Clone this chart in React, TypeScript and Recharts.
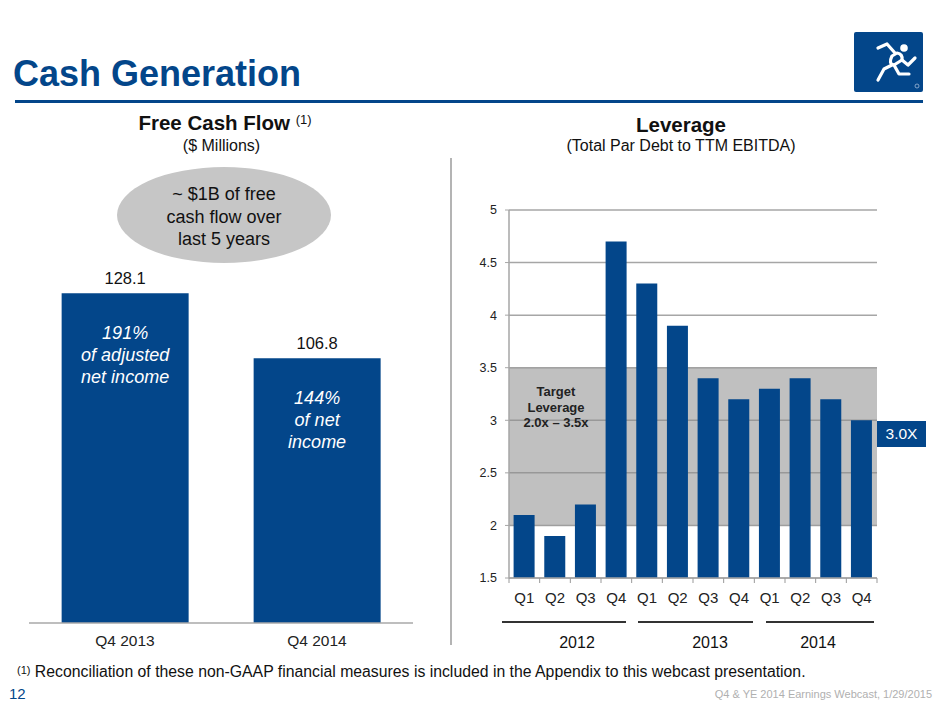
import React from 'react';
import {
  BarChart,
  Bar,
  XAxis,
  YAxis,
  CartesianGrid,
  ReferenceArea,
  LabelList,
} from 'recharts';

// ---------- data ----------
const fcfCategories = ['Q4 2013', 'Q4 2014'];
const fcfValues = [128.1, 106.8];
const fcfNotes = [
  ['191%', 'of adjusted', 'net income'],
  ['144%', 'of net', 'income'],
];

const levQuarters = ['Q1', 'Q2', 'Q3', 'Q4', 'Q1', 'Q2', 'Q3', 'Q4', 'Q1', 'Q2', 'Q3', 'Q4'];
const levValues = [2.1, 1.9, 2.2, 4.7, 4.3, 3.9, 3.4, 3.2, 3.3, 3.4, 3.2, 3.0];
const levYTicks = [1.5, 2, 2.5, 3, 3.5, 4, 4.5, 5];
const levYears = ['2012', '2013', '2014'];
const targetLow = 2.0;
const targetHigh = 3.5;
const currentLabel = '3.0X';

const fcfData = fcfCategories.map((c, i) => ({ name: c, value: fcfValues[i] }));
const levData = levQuarters.map((q, i) => ({ name: `${q}-${i}`, q, value: levValues[i] }));

// ---------- style ----------
const BLUE = '#03468a';
const FONT = '"Liberation Sans", Arial, Helvetica, sans-serif';

const X_AXIS_H = 30;
const LEV_W = 480;
const LEV_H = 545;
const LEV_MARGIN = { top: 50, right: 63, bottom: 127 - X_AXIS_H, left: 9 };
const LEV_YAXIS_W = 40;
const LEV_PLOT_W = LEV_W - LEV_MARGIN.left - LEV_MARGIN.right - LEV_YAXIS_W;

const QTick = (props: any) => {
  const { x, y, payload, index } = props;
  const band = LEV_PLOT_W / levQuarters.length;
  const axisY = y - 12;
  const label = levQuarters[index] ?? String(payload.value).split('-')[0];
  return (
    <g>
      <line x1={x - band / 2} x2={x - band / 2} y1={axisY} y2={axisY + 5} stroke="#999" strokeWidth={1} />
      {index === levQuarters.length - 1 && (
        <line x1={x + band / 2} x2={x + band / 2} y1={axisY} y2={axisY + 5} stroke="#999" strokeWidth={1} />
      )}
      <text x={x} y={y + 7} textAnchor="middle" dominantBaseline="central" fontSize={15} fill="#222" fontFamily={FONT}>
        {label}
      </text>
    </g>
  );
};

const NoteContent = (props: any) => {
  const { x, y, width, index } = props;
  const lines = fcfNotes[index] || [];
  return (
    <g>
      {lines.map((ln, i) => (
        <text
          key={i}
          x={x + width / 2}
          y={y + 40 + i * 22}
          textAnchor="middle"
          dominantBaseline="central"
          fontSize={18}
          fontStyle="italic"
          fill="#ffffff"
          fontFamily={FONT}
        >
          {ln}
        </text>
      ))}
    </g>
  );
};

const Logo = () => (
  <svg width={69} height={60} style={{ position: 'absolute', left: 854, top: 32 }}>
    <rect x={0} y={0} width={69} height={60} rx={2} fill={BLUE} />
    <g stroke="#fff" strokeWidth={3.2} strokeLinecap="round" strokeLinejoin="round" fill="none">
      <circle cx={50} cy={16} r={3.8} fill="#fff" stroke="none" />
      <path d="M41 21 L33 12 L24 16" />
      <path d="M43 21 Q49 22 48 28 L40 33 Q34 32 38 24 Z" />
      <path d="M48 28 L54 33 L61 26" />
      <path d="M38 33 L30 37 L24 48" />
      <path d="M40 33 L45 42 L55 42" />
    </g>
    <circle cx={63} cy={54} r={2} fill="none" stroke="#9fb8d6" strokeWidth={0.8} />
  </svg>
);

const abs = (style: React.CSSProperties): React.CSSProperties => ({ position: 'absolute', ...style });

export default function App() {
  return (
    <div
      style={{
        position: 'absolute',
        left: 0,
        top: 0,
        width: 940,
        height: 705,
        background: '#fff',
        fontFamily: FONT,
        overflow: 'hidden',
      }}
    >
      {/* header */}
      <div style={abs({ left: 13, top: 53, fontSize: 36, fontWeight: 700, color: BLUE, lineHeight: '42px', whiteSpace: 'nowrap' })}>
        Cash Generation
      </div>
      <div style={abs({ left: 15, top: 100, width: 908, height: 3, background: BLUE })} />
      <Logo />

      {/* left titles */}
      <div style={abs({ left: 0, width: 450, top: 111, textAlign: 'center', fontSize: 20.5, fontWeight: 700, color: '#111', lineHeight: '24px', whiteSpace: 'nowrap' })}>
        Free Cash Flow{' '}
        <span style={{ fontSize: 13, fontWeight: 400, verticalAlign: 'top', position: 'relative', top: -3 }}>(1)</span>
      </div>
      <div style={abs({ left: 0, width: 443, top: 137, textAlign: 'center', fontSize: 16, color: '#111', lineHeight: '18px' })}>
        ($ Millions)
      </div>

      {/* right titles */}
      <div style={abs({ left: 460, width: 442, top: 113, textAlign: 'center', fontSize: 20.5, fontWeight: 700, color: '#111', lineHeight: '24px' })}>
        Leverage
      </div>
      <div style={abs({ left: 460, width: 442, top: 137, textAlign: 'center', fontSize: 16, color: '#111', lineHeight: '18px' })}>
        (Total Par Debt to TTM EBITDA)
      </div>

      {/* divider */}
      <div style={abs({ left: 450, top: 158, width: 1.5, height: 487, background: '#b4b4b4' })} />

      {/* left chart */}
      <div style={abs({ left: 0, top: 0, width: 450, height: 705 })}>
        <BarChart
          width={450}
          height={705}
          data={fcfData}
          margin={{ top: 257, right: 37, bottom: 82 - X_AXIS_H, left: 29 }}
          barCategoryGap="17%"
        >
          <XAxis
            dataKey="name"
            axisLine={{ stroke: '#a8a8a8', strokeWidth: 1.5 }}
            tickLine={false}
            tickSize={6}
            tickMargin={6}
            tick={{ fontSize: 15.5, fill: '#222', fontFamily: FONT }}
            height={X_AXIS_H}
          />
          <YAxis hide domain={[20, 140]} />
          <Bar dataKey="value" fill={BLUE} isAnimationActive={false}>
            <LabelList dataKey="value" position="top" offset={9} fontSize={16.5} fill="#111" fontFamily={FONT} />
            <LabelList dataKey="value" content={<NoteContent />} />
          </Bar>
        </BarChart>
      </div>

      {/* ellipse callout */}
      <svg width={230} height={110} style={abs({ left: 109, top: 160 })}>
        <ellipse cx={115} cy={55} rx={107} ry={48} fill="#c6c6c6" />
        {['~ $1B of free', 'cash flow over', 'last 5 years'].map((t, i) => (
          <text key={i} x={115} y={34 + i * 22.5} textAnchor="middle" dominantBaseline="central" fontSize={18} fill="#111" fontFamily={FONT}>
            {t}
          </text>
        ))}
      </svg>

      {/* right chart */}
      <div style={abs({ left: 460, top: 160, width: LEV_W, height: LEV_H })}>
        <BarChart width={LEV_W} height={LEV_H} data={levData} margin={LEV_MARGIN} barCategoryGap="15%">
          <CartesianGrid vertical={false} stroke="#a6a6a6" strokeWidth={1.5} />
          <ReferenceArea y1={targetLow} y2={targetHigh} fill="#8c8c8c" fillOpacity={0.55} stroke="none" ifOverflow="visible" />
          <XAxis
            dataKey="name"
            interval={0}
            axisLine={{ stroke: '#a6a6a6', strokeWidth: 1.5 }}
            tickLine={false}
            tickSize={6}
            tickMargin={6}
            tick={<QTick />}
            height={X_AXIS_H}
          />
          <YAxis
            domain={[1.5, 5]}
            ticks={levYTicks}
            width={LEV_YAXIS_W}
            axisLine={{ stroke: '#a6a6a6', strokeWidth: 1.5 }}
            tickLine={{ stroke: '#a6a6a6' }}
            tickSize={4}
            tickMargin={8}
            tick={{ fontSize: 12.5, fill: '#222', fontFamily: FONT }}
            allowDataOverflow
          />
          <Bar dataKey="value" fill={BLUE} isAnimationActive={false} />
        </BarChart>
      </div>

      {/* target label */}
      <div style={abs({ left: 506, width: 100, top: 384, textAlign: 'center', fontSize: 13, fontWeight: 700, color: '#222', lineHeight: '15.7px', whiteSpace: 'nowrap' })}>
        Target
        <br />
        Leverage
        <br />
        2.0x – 3.5x
      </div>

      {/* current value box */}
      <div
        style={abs({
          left: 877,
          top: 421,
          width: 49,
          height: 26,
          background: BLUE,
          color: '#fff',
          fontSize: 15.5,
          lineHeight: '26px',
          textAlign: 'center',
        })}
      >
        {currentLabel}
      </div>

      {/* year grouping */}
      {[
        { l: 502, r: 626, c: 577 },
        { l: 638, r: 753, c: 710 },
        { l: 766, r: 874, c: 818 },
      ].map((g, i) => (
        <React.Fragment key={i}>
          <div style={abs({ left: g.l, top: 621, width: g.r - g.l, height: 1.5, background: '#333' })} />
          <div style={abs({ left: g.c - 40, width: 80, top: 634, textAlign: 'center', fontSize: 16, color: '#111', lineHeight: '18px' })}>
            {levYears[i]}
          </div>
        </React.Fragment>
      ))}

      {/* footnote */}
      <div style={abs({ left: 17, top: 663, fontSize: 15.8, color: '#111', lineHeight: '18px', whiteSpace: 'nowrap' })}>
        <span style={{ fontSize: 11, verticalAlign: 'top', position: 'relative', top: -2 }}>(1)</span> Reconciliation of these non-GAAP
        financial measures is included in the Appendix to this webcast presentation.
      </div>
      <div style={abs({ left: 9, top: 685, fontSize: 15, color: BLUE, lineHeight: '18px' })}>12</div>
      <div style={abs({ right: 8, top: 687, fontSize: 11, color: '#b0b0b0', lineHeight: '14px', whiteSpace: 'nowrap' })}>
        Q4 &amp; YE 2014 Earnings Webcast, 1/29/2015
      </div>
    </div>
  );
}
